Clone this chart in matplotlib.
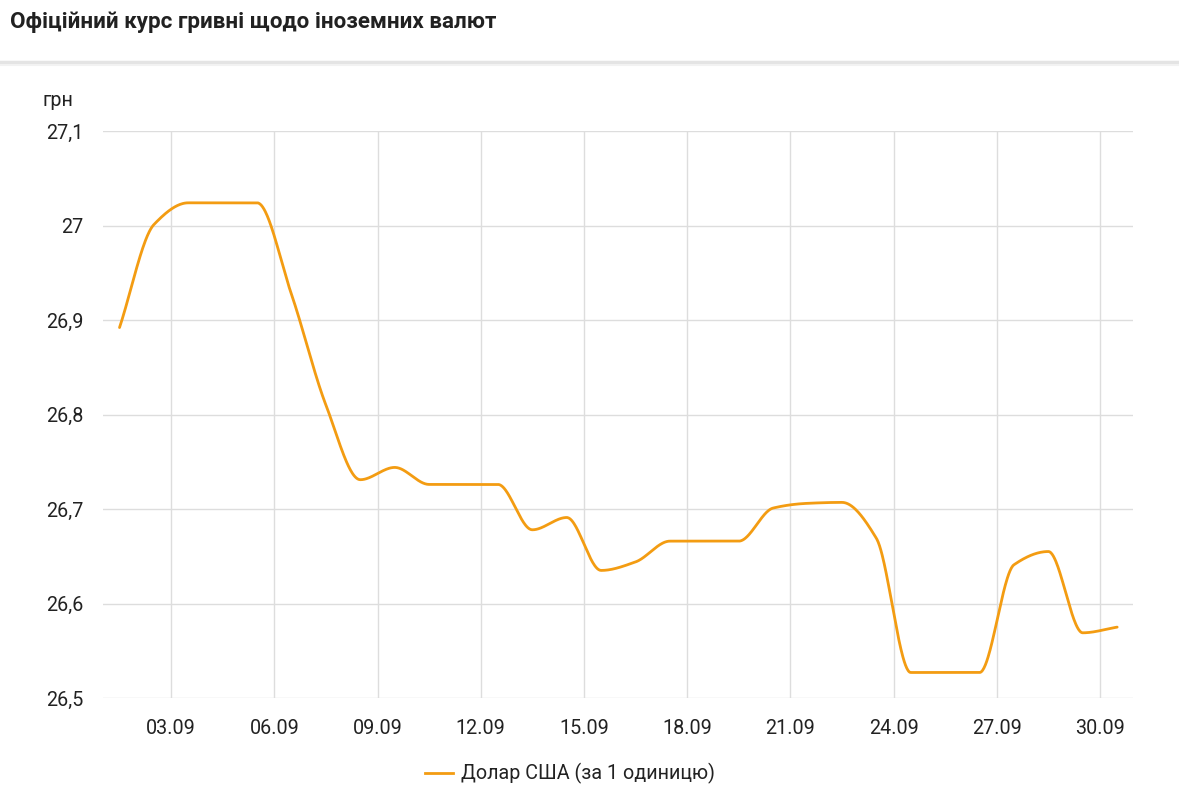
from matplotlib import pyplot as plt
import numpy as np

# Exchange rate UAH per 1 USD, September
days = list(range(1, 31))
rate = [26.892, 27.001, 27.024, 27.024, 27.024, 26.927, 26.810, 26.731, 26.744, 26.726,
        26.726, 26.726, 26.678, 26.691, 26.635, 26.644, 26.666, 26.666, 26.666, 26.701,
        26.706, 26.707, 26.669, 26.527, 26.527, 26.527, 26.641, 26.655, 26.569, 26.575]
tick_days = [3, 6, 9, 12, 15, 18, 21, 24, 27, 30]
tick_labels = ['%02d.09' % d for d in tick_days]
y_ticks = [26.5, 26.6, 26.7, 26.8, 26.9, 27.0, 27.1]
y_labels = ['26,5', '26,6', '26,7', '26,8', '26,9', '27', '27,1']

title = 'Офіційний курс гривні щодо іноземних валют'
series_name = 'Долар США (за 1 одиницю)'

plt.rcParams['font.family'] = ['Roboto', 'DejaVu Sans']

W, H = 1179, 807
fig = plt.figure(figsize=(W / 100, H / 100), dpi=100)
fig.patch.set_facecolor('white')


# monotone cubic curve through the points (like the smooth line in the chart)
def pchip(x, y, xs):
    x = np.asarray(x, float)
    y = np.asarray(y, float)
    h = np.diff(x)
    d = np.diff(y) / h
    n = len(x)
    m = np.zeros(n)
    for k in range(1, n - 1):
        if d[k - 1] * d[k] <= 0:
            m[k] = 0
        else:
            w1 = 2 * h[k] + h[k - 1]
            w2 = h[k] + 2 * h[k - 1]
            m[k] = (w1 + w2) / (w1 / d[k - 1] + w2 / d[k])
    m[0] = d[0]
    m[-1] = d[-1]
    idx = np.clip(np.searchsorted(x, xs) - 1, 0, n - 2)
    t = (xs - x[idx]) / h[idx]
    h00 = 2 * t**3 - 3 * t**2 + 1
    h10 = t**3 - 2 * t**2 + t
    h01 = -2 * t**3 + 3 * t**2
    h11 = t**3 - t**2
    return h00 * y[idx] + h10 * h[idx] * m[idx] + h01 * y[idx + 1] + h11 * h[idx] * m[idx + 1]


xd = np.array(days) + 0.5
xs = np.linspace(xd[0], xd[-1], 1500)
ys = pchip(xd, rate, xs)

fs = 14.2
ax = fig.add_axes([103 / W, 1 - 698 / H, 1030 / W, 567 / H])
ax.plot(xs, ys, color='#f39c12', lw=2.0, solid_capstyle='round', zorder=3)

ax.set_xlim(1.02, 30.96)
ax.set_ylim(26.5, 27.1)
ax.set_xticks(tick_days)
ax.set_xticklabels(tick_labels)
ax.set_yticks(y_ticks)
ax.set_yticklabels(y_labels)
for s in ax.spines.values():
    s.set_visible(False)
ax.tick_params(length=0, labelsize=fs, colors='#222222')
ax.tick_params(axis='x', pad=15)
ax.tick_params(axis='y', pad=14)
ax.grid(True, color='#dddddd', lw=1.0)
ax.set_axisbelow(True)

# header
fig.text(10 / W, 1 - 22 / H, title, fontsize=16.1, fontweight='bold',
         color='#212121', va='center', ha='left')
fig.add_artist(plt.Line2D([0, 1], [1 - 62 / H, 1 - 62 / H], color='#e4e4e4', lw=2.5))
fig.add_artist(plt.Line2D([0, 1], [1 - 64.5 / H, 1 - 64.5 / H], color='#f2f2f2', lw=1.5))
fig.text(42 / W, 1 - 101 / H, 'грн', fontsize=fs, color='#222222', va='center', ha='left')

# legend
fig.add_artist(plt.Line2D([425 / W, 453 / W], [1 - 773 / H, 1 - 773 / H], color='#f39c12', lw=2.0))
fig.text(461 / W, 1 - 773 / H, series_name, fontsize=fs, color='#222222', va='center', ha='left')

fig.savefig('out.png', dpi=100)
